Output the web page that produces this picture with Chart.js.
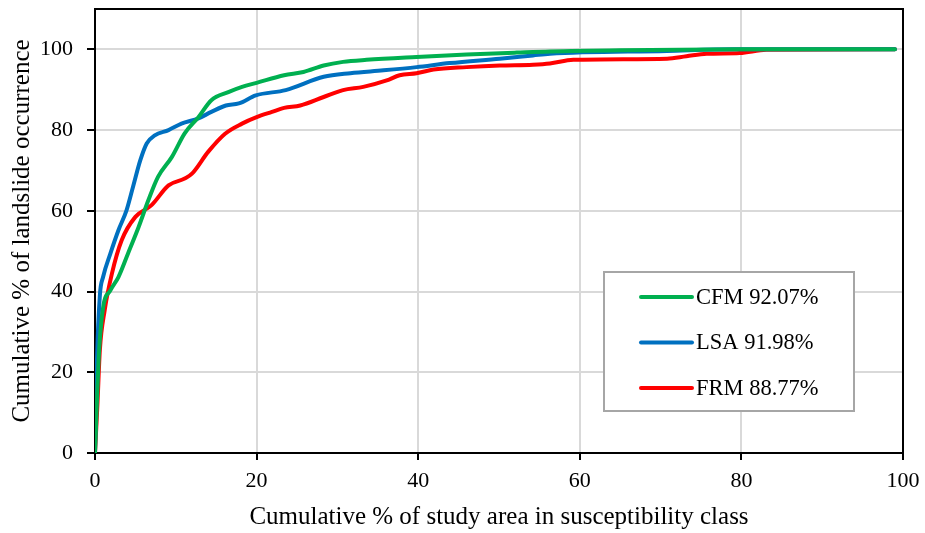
<!DOCTYPE html>
<html>
<head>
<meta charset="utf-8">
<script src="https://cdn.jsdelivr.net/npm/chart.js@4.4.1/dist/chart.umd.min.js"></script>
<style>
  html, body { margin: 0; padding: 0; background: #fff; }
  #wrap { width: 925px; height: 533px; }
</style>
</head>
<body>
<div id="wrap"><canvas id="chart-curvas"></canvas></div>
<script>
/* curvas de tasa de exito: % area vs % deslizamientos */
const cfmX = [0, 0.5, 1.0, 1.9, 2.9, 4.1, 5.4, 6.6, 7.8, 9.5, 11.1, 12.8, 14.4, 16.5, 18.2, 20, 23.4, 25.8, 28.3, 30.7, 33.6, 39.8, 46, 52.2, 56.3, 65, 80, 99];
const cfmY = [0, 25, 36, 40.3, 43.6, 49.5, 56, 62.6, 68.4, 73.3, 79.2, 83.2, 87.4, 89.4, 90.7, 91.7, 93.6, 94.4, 96, 96.9, 97.4, 98.1, 98.7, 99.2, 99.5, 99.8, 100, 100];

const lsaX = [0, 0.2, 0.6, 1.0, 1.9, 2.9, 3.9, 4.7, 5.6, 6.4, 7.4, 9.1, 10.7, 12.8, 14.4, 16.2, 17.8, 19.9, 23.6, 28.3, 31.6, 35.7, 39.8, 43.9, 50.1, 54.2, 56.3, 70.8, 79, 99];
const lsaY = [0, 20, 39, 43.6, 49.4, 55.2, 60.1, 65.9, 72.5, 76.7, 78.7, 80, 81.6, 82.9, 84.5, 86.1, 86.6, 88.6, 89.9, 93.2, 94.1, 94.8, 95.6, 96.6, 97.7, 98.5, 98.9, 99.6, 100, 100];

const frmX = [0, 0.3, 0.6, 1.2, 2.1, 3.3, 5.0, 7.0, 9.1, 11.1, 12.0, 14.0, 16.1, 18.2, 20, 21.9, 23.4, 25.4, 28.3, 30.7, 33.2, 36.1, 37.7, 39.8, 41.9, 46, 50.1, 54.2, 56.3, 59.2, 70.8, 73.2, 75.7, 79.8, 83.1, 99];
const frmY = [0, 12, 25.5, 35.4, 44.5, 52.7, 58.5, 61.4, 66.3, 68, 69.2, 74.6, 79.1, 81.6, 83.2, 84.5, 85.5, 86.1, 88.2, 89.9, 90.7, 92.3, 93.6, 94.1, 95, 95.6, 96, 96.2, 96.5, 97.4, 97.7, 98.3, 98.9, 99.1, 99.9, 100];

const seriesLabels = ['CFM 92.07%', 'LSA 91.98%', 'FRM 88.77%'];
const seriesColors = ['#00b050', '#0070c0', '#ff0000'];
const xTicks = [0, 20, 40, 60, 80, 100];
const yTicks = [0, 20, 40, 60, 80, 100];

const fuente = "'Liberation Serif', 'Times New Roman', serif";

function puntos(xs, ys) {
    return xs.map((x, i) => ({ x: x, y: ys[i] }));
}

function crearSerie(idx, xs, ys) {
    return {
        label: seriesLabels[idx],
        data: puntos(xs, ys),
        borderColor: seriesColors[idx],
        backgroundColor: seriesColors[idx],
        borderWidth: 4,
        borderCapStyle: 'round',
        borderJoinStyle: 'round',
        pointRadius: 0,
        tension: 0.4,
        cubicInterpolationMode: 'monotone',
        fill: false
    };
}

/* marco superior/derecho y leyenda dentro del area */
const marcoYLeyenda = {
    id: 'marcoYLeyenda',
    beforeDatasetsDraw(chart) {
        const { ctx, chartArea: a } = chart;
        ctx.save();
        ctx.strokeStyle = '#000';
        ctx.lineWidth = 2;
        ctx.beginPath();
        ctx.moveTo(a.left, a.top);
        ctx.lineTo(a.right, a.top);
        ctx.lineTo(a.right, a.bottom);
        ctx.stroke();
        ctx.restore();
    },
    afterDraw(chart) {
        const { ctx, chartArea: a } = chart;
        const w = 250, h = 139;
        const left = a.right - 49 - w;
        const top = a.bottom - 42 - h;
        ctx.save();
        ctx.fillStyle = '#fff';
        ctx.fillRect(left, top, w, h);
        ctx.strokeStyle = '#a6a6a6';
        ctx.lineWidth = 2;
        ctx.strokeRect(left, top, w, h);
        ctx.font = '22.5px ' + fuente;
        ctx.textBaseline = 'middle';
        ctx.textAlign = 'left';
        chart.data.datasets.forEach((ds, i) => {
            const y = top + 25 + i * 45.5;
            ctx.strokeStyle = ds.borderColor;
            ctx.lineWidth = 4;
            ctx.lineCap = 'round';
            ctx.beginPath();
            ctx.moveTo(left + 37, y);
            ctx.lineTo(left + 88, y);
            ctx.stroke();
            ctx.fillStyle = '#000';
            ctx.fillText(ds.label, left + 92, y + 1);
        });
        ctx.restore();
    }
};

new Chart(document.getElementById('chart-curvas'), {
    type: 'line',
    data: {
        datasets: [
            crearSerie(0, cfmX, cfmY),
            crearSerie(1, lsaX, lsaY),
            crearSerie(2, frmX, frmY)
        ]
    },
    options: {
        responsive: true,
        maintainAspectRatio: false,
        animation: false,
        layout: { padding: { top: 9, right: 22, left: 0, bottom: 0 } },
        plugins: {
            legend: { display: false },
            tooltip: { enabled: false }
        },
        scales: {
            x: {
                type: 'linear',
                min: 0,
                max: 100,
                afterBuildTicks: s => { s.ticks = xTicks.map(v => ({ value: v })); },
                afterFit: s => { s.height = 80; s.paddingLeft = 0; s.paddingRight = 0; },
                ticks: { color: '#000', font: { family: fuente, size: 22 }, padding: 8, maxRotation: 0 },
                grid: { color: '#d9d9d9', lineWidth: 2, tickColor: '#000', tickLength: 7, tickWidth: 2 },
                border: { color: '#000', width: 2 },
                title: {
                    display: true,
                    text: 'Cumulative % of study area in susceptibility class',
                    color: '#000',
                    font: { family: fuente, size: 25 },
                    padding: { top: 0, bottom: 1 }
                }
            },
            y: {
                min: 0,
                max: 110,
                afterBuildTicks: s => { s.ticks = yTicks.map(v => ({ value: v })); },
                afterFit: s => { s.width = 95; s.paddingTop = 0; s.paddingBottom = 0; },
                ticks: { color: '#000', font: { family: fuente, size: 22 }, padding: 14 },
                grid: { color: '#d9d9d9', lineWidth: 2, tickColor: '#000', tickLength: 8, tickWidth: 2 },
                border: { color: '#000', width: 2 },
                title: {
                    display: true,
                    text: 'Cumulative % of landslide occurrence',
                    color: '#000',
                    font: { family: fuente, size: 25 },
                    padding: { top: 7, bottom: 0 }
                }
            }
        }
    },
    plugins: [marcoYLeyenda]
});
</script>
</body>
</html>
